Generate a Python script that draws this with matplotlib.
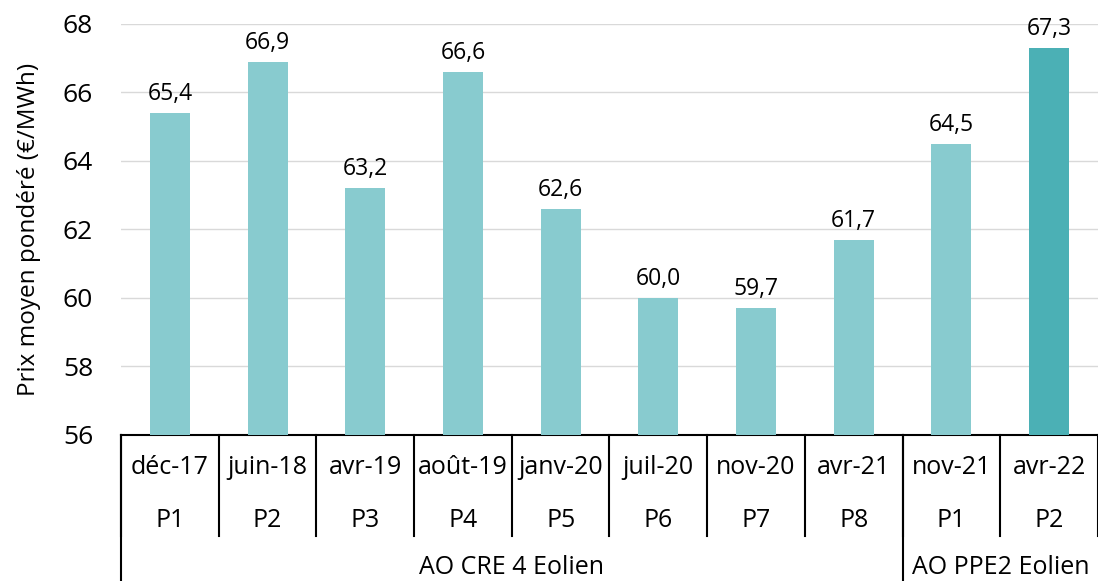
import matplotlib.pyplot as plt
from matplotlib.transforms import blended_transform_factory

plt.rcParams['font.family'] = ['Open Sans', 'DejaVu Sans']

dates = ["déc-17", "juin-18", "avr-19", "août-19", "janv-20",
         "juil-20", "nov-20", "avr-21", "nov-21", "avr-22"]
periods = ["P1", "P2", "P3", "P4", "P5", "P6", "P7", "P8", "P1", "P2"]
groups = ["AO CRE 4 Eolien", "AO PPE2 Eolien"]
group_sizes = [8, 2]
prices = [65.4, 66.9, 63.2, 66.6, 62.6, 60.0, 59.7, 61.7, 64.5, 67.3]

light = "#88CBCF"
dark = "#4BB0B5"
colors = [light] * (len(prices) - 1) + [dark]

fig = plt.figure(figsize=(10.98, 5.81), dpi=100)
ax = fig.add_axes([0.1102, 0.2513, 0.8898, 0.7074])

x = list(range(len(prices)))
bars = ax.bar(x, prices, width=0.41, color=colors, zorder=3)
ax.set_ylim(56, 68)
ax.set_xlim(-0.5, len(prices) - 0.5)
ax.set_yticks(range(56, 69, 2))
ax.tick_params(axis='y', length=0, labelsize=19, pad=20)
ax.set_xticks([])
ax.grid(axis='y', color="#D9D9D9", linewidth=1, zorder=0)
for s in ("left", "right", "top"):
    ax.spines[s].set_visible(False)
ax.spines["bottom"].set_color("black")
ax.spines["bottom"].set_linewidth(1.5)
ax.set_ylabel("Prix moyen pondéré (€/MWh)", fontsize=17.5, labelpad=16)

for xi, v in zip(x, prices):
    ax.annotate(f"{v:.1f}".replace(".", ","), (xi, v), xytext=(0, 5),
                textcoords="offset points", ha="center", va="bottom", fontsize=16.5)

tr = blended_transform_factory(ax.transData, ax.transAxes)
for xi, (d, p) in enumerate(zip(dates, periods)):
    ax.text(xi, -0.080, d, transform=tr, ha="center", va="center", fontsize=18)
    ax.text(xi, -0.209, p, transform=tr, ha="center", va="center", fontsize=18)

# separators for the date/period rows
for i in range(len(prices) + 1):
    ax.plot([i - 0.5, i - 0.5], [0, -0.246], transform=tr, color="black",
            linewidth=1.5, clip_on=False)

# group labels and their separators
start = 0
for g, n in zip(groups, group_sizes):
    ax.plot([start - 0.5, start - 0.5], [0, -0.36], transform=tr, color="black",
            linewidth=1.5, clip_on=False)
    ax.text(start + (n - 1) / 2, -0.322, g, transform=tr, ha="center",
            va="center", fontsize=18)
    start += n

fig.savefig("out.png", dpi=100)
